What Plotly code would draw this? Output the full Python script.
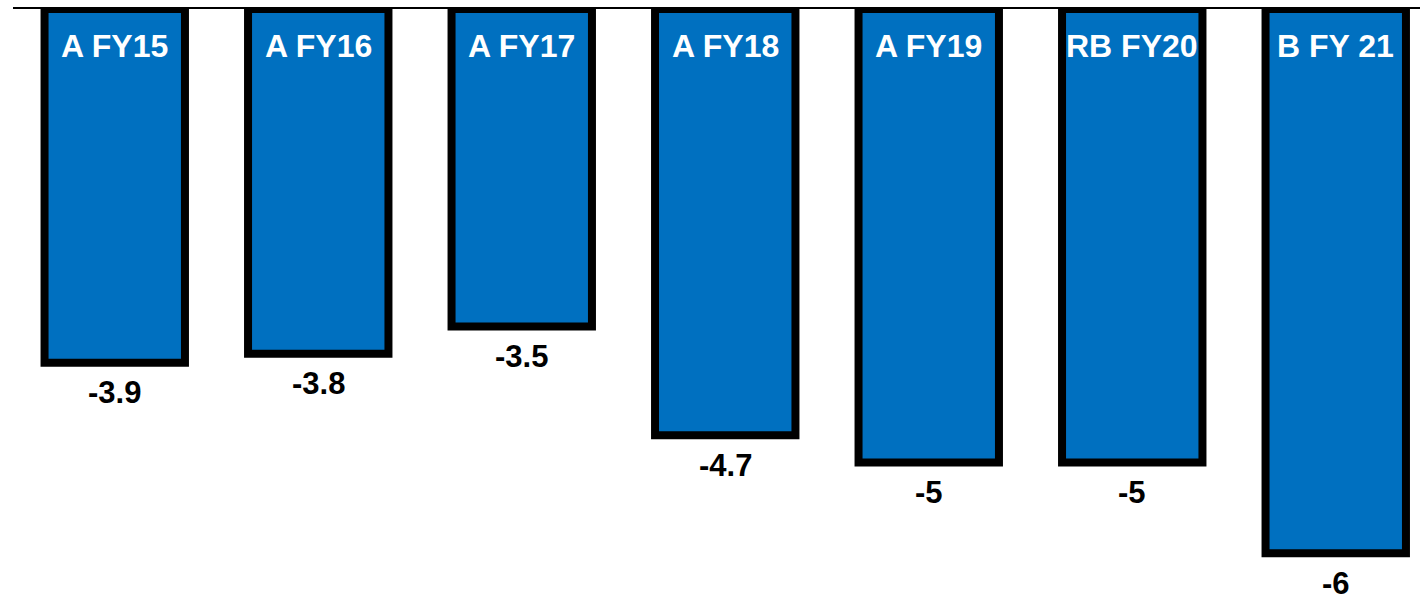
import plotly.graph_objects as go

categories = ["A FY15", "A FY16", "A FY17", "A FY18", "A FY19", "RB FY20", "B FY 21"]
values = [-3.9, -3.8, -3.5, -4.7, -5, -5, -6]
value_labels = ["-3.9", "-3.8", "-3.5", "-4.7", "-5", "-5", "-6"]

W, H = 1420, 598
ML, MT = 13, 9
px_per_cat = 203.5
px_per_unit = 90.7

fig = go.Figure()
fig.add_trace(go.Bar(
    x=categories, y=values, width=0.69,
    marker=dict(color="#0070C0", line=dict(color="black", width=8)),
    hoverinfo="skip",
))

ann = []
for c, v, t in zip(categories, values, value_labels):
    ann.append(dict(x=c, y=0, text=f"<b>{c}</b>", showarrow=False,
                    xanchor="center", yanchor="middle", yshift=-37,
                    font=dict(family="Liberation Sans, Arial", size=32, color="white")))
    ann.append(dict(x=c, y=v, text=f"<b>{t}</b>", showarrow=False,
                    xanchor="center", yanchor="middle", yshift=-30,
                    font=dict(family="Liberation Sans, Arial", size=31, color="black")))

plot_w = W - ML
plot_h = H - MT
fig.update_layout(
    width=W, height=H,
    margin=dict(l=ML, r=0, t=MT, b=0),
    paper_bgcolor="white", plot_bgcolor="white",
    showlegend=False,
    annotations=ann,
    xaxis=dict(type="category", range=[-0.5, -0.5 + plot_w / px_per_cat],
               showticklabels=False, ticks="", showgrid=False, zeroline=False,
               showline=True, side="top", linecolor="black", linewidth=1.5),
    yaxis=dict(range=[-plot_h / px_per_unit, 0], showticklabels=False, ticks="",
               showgrid=False, zeroline=False, showline=False),
)
fig.write_html("out.html")
